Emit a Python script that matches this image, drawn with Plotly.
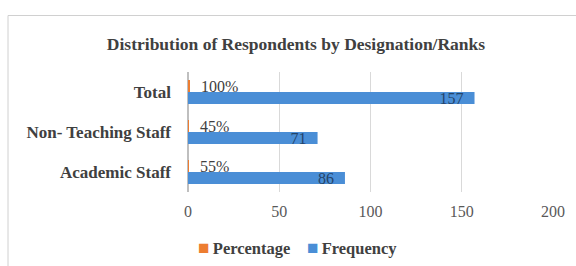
import plotly.graph_objects as go

categories = ["Academic Staff", "Non- Teaching Staff", "Total"]
frequency = [86, 71, 157]
percentage = [0.55, 0.45, 1.00]
percentage_labels = ["55%", "45%", "100%"]
x_ticks = [0, 50, 100, 150, 200]

W, H = 576, 266
L, R, T, B = 188, 23, 72, 74
pw, ph = W - L - R, H - T - B

serif = "Liberation Serif, Times New Roman, serif"
blue = "#4A8ED6"
orange = "#ED7D31"


def px_x(p):
    return (p - L) / pw


def px_y(p):
    return (H - B - p) / ph


fig = go.Figure()
fig.add_trace(go.Bar(
    y=categories, x=frequency, orientation="h", name="Frequency",
    marker=dict(color=blue, line=dict(width=0)),
    texttemplate="%{x}\u00a0\u00a0", textposition="inside",
    insidetextanchor="end", textangle=0,
    textfont=dict(family=serif, size=16, color="#24446A"),
    showlegend=False,
))
fig.add_trace(go.Bar(
    y=categories, x=percentage, orientation="h", name="Percentage",
    marker=dict(color=orange, line=dict(width=0)),
    text=percentage_labels, texttemplate="\u00a0\u00a0%{text}",
    textposition="outside", textangle=0, cliponaxis=False,
    textfont=dict(family=serif, size=16, color="#404040"),
    showlegend=False,
))

legend_text = (
    f'<span style="color:{orange};font-size:19px">■</span>'
    '\u2009<b>Percentage</b>\u00a0\u00a0\u00a0\u00a0'
    f'<span style="color:{blue};font-size:19px">■</span>'
    '\u2009<b>Frequency</b>'
)

fig.update_layout(
    width=W, height=H,
    margin=dict(l=L, r=R, t=T, b=B, autoexpand=False),
    paper_bgcolor="white", plot_bgcolor="white",
    barmode="group", bargap=0.4, bargroupgap=0,
    title=dict(text="<b>Distribution of Respondents by Designation/Ranks</b>",
               x=px_x(296), xref="paper", xanchor="center",
               y=1 - 44 / H, yanchor="middle",
               font=dict(family=serif, size=17.5, color="#404040")),
    xaxis=dict(range=[0, 200], tickvals=x_ticks, showgrid=True,
               gridcolor="#D9D9D9", gridwidth=1, zeroline=True,
               zerolinecolor="#BFBFBF", showline=False, ticks="",
               ticklabelstandoff=8,
               tickfont=dict(family=serif, size=16, color="#595959"),
               fixedrange=True, automargin=False),
    yaxis=dict(showgrid=False, ticks="", showline=False,
               ticklabelstandoff=16, automargin=False,
               tickfont=dict(family=serif, size=17, color="#404040"),
               tickprefix="<b>", ticksuffix="</b>", fixedrange=True),
    showlegend=False,
    uniformtext=dict(minsize=16, mode="show"),
    annotations=[dict(
        text=legend_text, xref="paper", yref="paper",
        x=px_x(297), y=px_y(247), xanchor="center", yanchor="middle",
        showarrow=False,
        font=dict(family=serif, size=16.5, color="#404040"),
    )],
    shapes=[
        dict(type="line", xref="paper", yref="paper",
             x0=px_x(8), x1=px_x(8), y0=px_y(300), y1=px_y(15.5),
             line=dict(color="#D0D0D0", width=1)),
        dict(type="line", xref="paper", yref="paper",
             x0=px_x(8), x1=px_x(600), y0=px_y(15.5), y1=px_y(15.5),
             line=dict(color="#D0D0D0", width=1)),
    ],
)

fig.write_html("out.html",
               config={"displayModeBar": False},
               post_script="document.body.style.margin='0';")
